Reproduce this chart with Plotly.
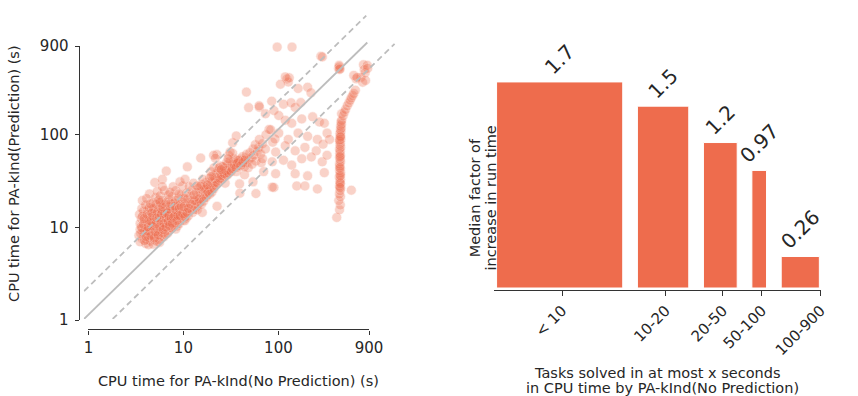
import math
import plotly.graph_objects as go

W, H = 858, 396

# ---------------------------------------------------------------
# Left panel: CPU time (s) without prediction (x) vs. with prediction (y)
# ---------------------------------------------------------------
core = [
    (3.4, 8.2), (3.5, 9.5), (3.5, 11.0), (3.6, 12.5), (3.45, 13.8), (3.7, 7.5), (3.6, 10.2),
    (3.8, 14.9), (3.5, 7.0), (3.75, 8.8), (3.9, 11.8), (3.65, 16.0), (3.7, 19.5),
    (4.0, 6.7), (4.1, 7.4), (4.2, 8.3), (4.0, 9.6), (4.3, 10.8), (4.1, 12.2), (4.4, 13.5),
    (4.2, 15.2), (4.0, 17.5), (4.4, 23.0), (4.3, 6.5), (4.5, 7.1), (4.4, 8.9), (4.6, 9.9),
    (4.2, 11.4), (4.5, 12.9), (4.6, 15.8), (4.1, 20.5),
    (4.8, 6.6), (5.0, 7.3), (4.9, 8.0), (5.2, 8.7), (4.8, 9.4), (5.1, 10.3), (5.3, 11.5),
    (4.9, 12.6), (5.2, 13.8), (5.0, 15.0), (5.4, 16.9), (4.8, 18.5), (5.1, 21.0), (5.0, 30.5),
    (5.3, 7.0), (4.7, 11.0), (5.4, 9.6), (5.3, 24.5),
    (5.6, 7.4), (5.8, 8.1), (6.0, 8.8), (5.7, 9.6), (6.2, 10.4), (5.9, 11.3), (6.3, 12.2),
    (5.6, 13.4), (6.1, 14.6), (5.8, 16.0), (6.4, 17.5), (6.0, 19.5), (5.7, 22.0), (6.3, 25.0),
    (6.5, 9.2), (6.2, 7.9), (5.5, 10.8), (6.4, 13.6), (6.6, 40.5), (6.0, 33.0),
    (6.8, 8.6), (7.0, 9.3), (7.3, 10.0), (6.9, 10.9), (7.5, 11.8), (7.1, 12.8), (7.7, 13.9),
    (6.8, 15.1), (7.4, 16.4), (7.9, 18.0), (7.0, 19.8), (7.6, 21.5), (7.2, 24.0), (7.8, 27.5),
    (6.7, 12.0), (7.9, 10.6), (7.4, 14.8), (8.0, 12.4),
    (8.3, 9.6), (8.6, 10.3), (8.2, 11.2), (9.0, 11.0), (8.8, 12.2), (9.4, 12.9), (8.4, 13.6),
    (9.1, 14.4), (9.7, 15.2), (8.6, 16.3), (9.3, 17.5), (9.9, 18.8), (8.9, 20.5), (9.5, 22.5),
    (8.3, 25.0), (9.8, 28.0), (9.2, 31.0), (10.0, 12.0), (9.6, 13.8), (8.7, 18.4),
    (10.3, 11.8), (10.7, 12.6), (11.2, 13.3), (10.5, 14.1), (11.6, 14.9), (10.9, 15.8),
    (12.0, 16.2), (11.4, 17.2), (10.6, 18.5), (12.3, 18.8), (11.1, 20.2), (11.8, 21.8),
    (12.6, 20.0), (10.8, 23.5), (12.2, 25.0), (11.5, 27.5), (10.4, 33.0), (12.8, 30.0),
    (11.0, 45.0), (12.5, 14.5), (13.0, 15.6), (13.2, 17.8),
    (4.7, 8.4), (5.5, 9.0), (6.0, 10.0), (6.6, 11.0), (7.2, 11.4), (5.2, 12.0), (6.0, 12.8),
    (6.8, 13.5), (7.8, 15.0), (8.5, 14.8), (5.6, 14.2), (4.9, 10.6), (4.4, 9.7), (3.9, 9.0),
    (7.6, 9.8), (8.9, 12.9), (6.5, 15.5), (5.9, 17.8), (7.2, 17.0), (8.2, 19.5), (4.3, 7.8),
    (3.9, 7.2), (5.6, 6.9), (6.4, 8.4),
    (3.55, 8.6), (3.65, 9.9), (3.8, 10.8), (3.7, 13.2), (3.85, 12.4), (4.05, 8.0), (4.15, 9.2),
    (4.25, 10.1), (4.35, 11.9), (4.15, 13.9), (4.35, 16.5), (4.55, 8.1), (4.65, 10.4),
    (4.55, 11.7), (4.75, 13.2), (4.65, 14.4), (4.85, 16.0), (4.95, 7.7), (5.05, 9.0),
    (5.15, 11.0), (5.25, 12.7), (5.35, 14.6), (5.15, 17.8), (5.45, 8.3), (5.65, 10.2),
    (5.75, 11.9), (5.55, 12.6), (5.85, 13.8), (5.95, 15.2), (5.65, 18.6), (6.15, 9.5),
    (6.25, 11.1), (6.35, 14.1), (6.05, 16.6), (6.55, 10.1), (6.65, 12.6), (6.75, 14.3),
    (6.55, 18.6), (6.95, 11.6), (7.05, 13.3), (7.25, 15.6), (7.15, 10.5), (7.45, 12.6),
    (7.65, 11.1), (7.85, 12.9), (7.35, 18.2), (8.1, 13.3), (8.35, 15.5), (8.15, 17.0),
    (8.55, 11.8), (8.75, 13.5), (9.05, 16.0), (9.25, 13.4), (9.55, 16.8), (9.85, 14.1),
    (10.1, 16.7), (10.4, 13.0), (10.9, 14.5), (11.3, 16.0), (11.9, 17.8), (10.2, 20.5),
    (9.0, 23.0), (7.0, 22.5), (6.0, 27.5), (5.5, 19.8), (4.5, 18.0),
]

band = [
    (13.5, 16.5), (14.2, 17.3), (13.8, 19.0), (14.8, 18.4), (15.3, 20.1), (14.1, 21.5),
    (15.8, 22.0), (16.5, 21.0), (15.0, 23.6), (16.2, 24.8), (17.0, 23.2), (17.5, 25.5),
    (16.8, 27.0), (14.5, 26.5), (15.6, 29.0), (17.2, 30.5), (16.0, 33.0), (13.6, 24.0),
    (15.2, 56.0), (17.8, 22.2), (14.0, 15.5),
    (18.3, 23.8), (19.0, 25.2), (18.6, 27.4), (19.8, 26.3), (20.5, 28.0), (19.3, 29.8),
    (21.2, 30.5), (20.0, 32.0), (22.0, 31.0), (21.5, 33.5), (22.8, 34.5), (23.5, 32.5),
    (20.8, 36.0), (22.3, 38.0), (24.0, 36.5), (24.8, 39.0), (23.2, 41.0), (19.5, 40.0),
    (21.0, 44.0), (24.5, 46.0), (18.8, 34.0), (22.5, 61.0), (20.8, 60.0), (22.6, 16.9),
    (15.8, 14.5), (21.7, 55.7),
    (25.5, 33.5), (26.5, 35.0), (27.5, 37.5), (26.0, 40.0), (28.5, 39.0), (29.5, 42.0),
    (27.0, 44.0), (30.5, 41.5), (31.5, 44.5), (29.0, 47.5), (32.5, 47.0), (33.5, 50.0),
    (31.0, 52.0), (34.5, 45.0), (35.5, 48.5), (36.5, 52.5), (34.0, 55.0), (37.5, 46.5),
    (38.5, 50.5), (39.5, 54.5), (30.0, 60.0), (33.0, 63.0), (31.0, 65.0), (28.5, 50.0),
    (36.0, 40.0), (26.0, 45.5), (27.5, 30.0), (33.0, 82.0), (36.0, 97.0), (39.0, 29.5),
    (44.0, 37.0),
    (41.0, 48.0), (43.0, 52.0), (45.0, 56.0), (42.0, 58.0), (47.0, 50.0), (49.0, 54.0),
    (46.0, 61.0), (52.0, 57.0), (50.0, 64.0), (55.0, 60.0), (54.0, 70.0), (58.0, 52.0),
    (60.0, 66.0), (62.0, 73.0), (57.0, 78.0), (65.0, 62.0), (68.0, 80.0), (63.0, 89.0),
    (48.0, 44.0), (44.0, 45.0), (53.0, 48.0), (66.0, 50.0), (46.0, 288.0), (48.6, 196.0),
    (63.0, 198.0), (39.3, 23.4), (58.0, 23.2), (54.0, 31.0), (70.0, 40.0), (74.0, 100.0),
    (13.2, 19.5), (14.6, 20.3), (15.5, 17.8), (16.3, 19.2), (17.3, 21.0), (18.0, 24.5),
    (16.7, 25.9), (15.2, 27.8), (18.9, 22.8), (19.9, 24.0), (20.9, 26.2), (21.9, 28.4),
    (23.0, 30.0), (24.3, 33.8), (25.3, 36.2), (26.8, 38.2), (27.9, 41.0), (28.9, 36.5),
    (30.0, 38.5), (31.8, 40.0), (32.8, 43.0), (34.2, 47.8), (35.8, 44.0), (37.0, 49.5),
    (38.0, 53.0), (40.0, 46.0), (42.2, 50.0), (44.5, 53.5), (19.7, 35.5), (17.9, 28.8),
    (23.8, 44.0), (25.0, 42.0), (29.5, 55.0), (13.9, 28.0), (12.9, 22.5),
]

spread = [
    (97, 880), (139, 880), (280, 700), (290, 690), (123, 399), (127, 370), (130, 410),
    (118, 420), (105, 350), (161, 315), (203, 325), (220, 283), (85, 230), (113, 213),
    (136, 221), (150, 197), (172, 222), (62.6, 205), (73, 168), (89.6, 182), (100.8, 161),
    (118, 143), (138, 133), (176, 148), (229, 156), (270, 137), (304, 133), (79.6, 114),
    (100.8, 104), (127, 89), (161, 104), (203, 96), (257, 89), (325, 104), (73, 70),
    (93.5, 65), (118, 76), (150, 67), (190, 73), (250, 67), (295, 79), (345, 89), (68, 55),
    (86, 51), (113, 53), (138, 47), (176, 55), (222, 57.5), (289, 51), (325, 60), (93.5, 38),
    (150, 38), (203, 36), (304, 39), (89.6, 27), (156, 28), (190, 28), (257, 26), (86, 27.2),
    (83, 113), (87, 83), (92, 90),
]

stripe = [
    (411, 12.8), (440, 15.5), (448, 17.5), (432, 19.5), (450, 21.5), (438, 23.0), (446, 25.0),
    (452, 26.5), (440, 28.0), (447, 29.5), (443, 31.0), (450, 33.0), (437, 35.0), (445, 37.0),
    (452, 39.0), (441, 41.0), (448, 43.5), (444, 46.0), (439, 48.5), (451, 51.0), (446, 54.0),
    (441, 57.0), (449, 60.0), (443, 63.0), (447, 66.5), (440, 70.0), (452, 73.0), (445, 77.0),
    (449, 81.0), (442, 85.0), (454, 89.0), (447, 93.0), (450, 98.0), (444, 103), (455, 108),
    (449, 113), (458, 118), (452, 124), (460, 130), (456, 137), (463, 143), (462, 168),
    (480, 160), (495, 175), (510, 188), (530, 205), (552, 221), (570, 236), (585, 250),
    (605, 265), (621, 279), (645, 302), (448, 30.0), (442, 44.0), (446, 58.0), (440, 88.0),
    (451, 95.0), (444, 27.0), (449, 36.0),
    (430, 520), (438, 540), (445, 515), (435, 560), (440, 505),
]

far_right = [
    (785, 569), (800, 503), (819, 467), (740, 415), (658, 400), (621, 436), (770, 368),
    (673, 415), (585, 25.2), (860, 560), (870, 520), (826, 385),
]

points = core + band + spread + stripe + far_right
scatter_x = [p[0] for p in points]
scatter_y = [p[1] for p in points]

# reference lines y = k * x  (parity line and factor-of-two lines)
parity_k = 1.145
ref_multipliers = [1.0, 2.0, 0.5]
ref_x_spans = [(0.9, 862), (0.9, 840), (1.8, 1670)]

# ---------------------------------------------------------------
# Right panel: median slow-down factor per run-time bin
# ---------------------------------------------------------------
bin_labels = ["< 10", "10-20", "20-50", "50-100", "100-900"]
median_factor = [1.7, 1.5, 1.2, 0.97, 0.26]
bin_share = [8.6, 3.5, 2.3, 1.0, 2.6]   # relative bar widths (share of tasks)
bar_gap = 1.0

bar_left, pos = [], 0.0
for w in bin_share:
    bar_left.append(pos)
    pos += w + bar_gap
bar_center = [l + w / 2 for l, w in zip(bar_left, bin_share)]
tick_pos = [c + 0.18 for c in bar_center[:-1]] + [bar_left[-1] + bin_share[-1] + 0.1]

# ---------------------------------------------------------------
ORANGE = "#EE6C4D"
AXIS = "#333333"
TEXT = "#262626"
FONT = "DejaVu Sans"
GRAY = "#BDBDBD"


def fx(p):
    """pixel x -> paper fraction"""
    return p / W


def fy(p):
    """pixel y (from top) -> paper fraction"""
    return 1 - p / H


fig = go.Figure()

fig.add_trace(go.Scatter(
    x=scatter_x, y=scatter_y, mode="markers", xaxis="x", yaxis="y",
    marker=dict(color=ORANGE, size=10, opacity=0.3, line=dict(color="white", width=0.6)),
    hoverinfo="skip", showlegend=False,
))

for mult, (x0, x1), dash in zip(ref_multipliers, ref_x_spans, ["solid", "6px,4px", "6px,4px"]):
    k = parity_k * mult
    fig.add_trace(go.Scatter(
        x=[x0, x1], y=[k * x0, k * x1], mode="lines", xaxis="x", yaxis="y",
        line=dict(color=GRAY, width=1.8, dash=dash),
        hoverinfo="skip", showlegend=False,
    ))

# placeholder trace so the trimmed spine axes form a subplot
fig.add_trace(go.Scatter(x=[None], y=[None], xaxis="x2", yaxis="y2",
                         mode="markers", showlegend=False, hoverinfo="skip"))

fig.add_trace(go.Bar(
    x=bar_center, y=median_factor, width=bin_share, xaxis="x3", yaxis="y3",
    marker=dict(color=ORANGE, line=dict(color="white", width=1)),
    text=[f"{v:g}" for v in median_factor], textposition="outside", textangle=-45,
    textfont=dict(size=20, color=TEXT, family=FONT), cliponaxis=False,
    constraintext="none", hoverinfo="skip", showlegend=False,
))

log900 = math.log10(900)
spine = dict(showline=True, linecolor=AXIS, linewidth=1.25, ticks="outside",
             ticklen=4, tickwidth=1.25, tickcolor=AXIS, showgrid=False,
             zeroline=False, tickfont=dict(size=15, color=TEXT, family=FONT))

fig.update_layout(
    width=W, height=H, autosize=False,
    margin=dict(l=0, r=0, t=0, b=0, pad=0),
    paper_bgcolor="white", plot_bgcolor="rgba(0,0,0,0)",
    font=dict(family=FONT, color=TEXT),
    xaxis=dict(domain=[fx(80.5), fx(400)], type="log", range=[-0.0494, 3.239],
               visible=False, anchor="y"),
    yaxis=dict(domain=[fy(324.7), fy(5)], type="log", range=[0.0134, 3.304],
               visible=False, anchor="x"),
    xaxis2=dict(domain=[fx(85.3), fx(372.3)], type="log", range=[0, log900],
                anchor="free", position=fy(335.7),
                tickvals=[1, 10, 100, 900], ticktext=["1", "10", "100", "900"], **spine),
    yaxis2=dict(domain=[fy(326), fy(39)], type="log", range=[0, log900],
                anchor="free", position=fx(75.3), side="left", ticklabelstandoff=3,
                tickvals=[1, 10, 100, 900], ticktext=["1", "10", "100", "900"], **spine),
    xaxis3=dict(domain=[fx(500.45), fx(834.3)], range=[-0.15, 22.1],
                anchor="free", position=fy(294.3),
                tickvals=tick_pos, ticktext=bin_labels, tickangle=-45,
                **{**spine, "ticklen": 5}),
    yaxis3=dict(domain=[fy(292.3), fy(20)], range=[0, 2.1441], visible=False, anchor="x3"),
)

title_font = dict(size=14.5, color=TEXT, family=FONT)
titles = [
    ("CPU time for PA-kInd(No Prediction) (s)", 238.3, 389.5, 0),
    ("CPU time for PA-kInd(Prediction) (s)", 8.5, 172.5, -90),
    ("Median factor of", 481.0, 198.0, -90),
    ("increase in run time", 497.5, 198.0, -90),
    ("Tasks solved in at most x seconds", 667.5, 381.5, 0),
    ("in CPU time by PA-kInd(No Prediction)", 672.5, 397.0, 0),
]
for text, px, py, ang in titles:
    fig.add_annotation(text=text, x=fx(px), y=fy(py), xref="paper", yref="paper",
                       xanchor="center", yanchor="middle", textangle=ang,
                       showarrow=False, font=title_font)

fig.write_html("out.html")
